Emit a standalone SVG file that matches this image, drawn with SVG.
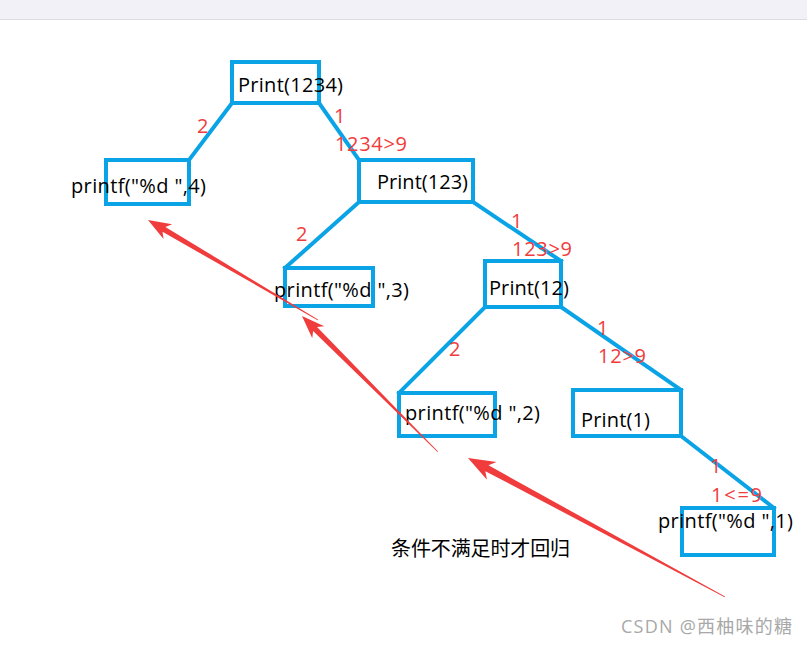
<svg xmlns="http://www.w3.org/2000/svg" width="807" height="646" viewBox="0 0 807 646">
<style>
.box{fill:none;stroke:#0aa3e6;stroke-width:4}
.con{stroke:#0aa3e6;stroke-width:4;fill:none;stroke-linecap:square}
.t{font-family:"Open Sans","Noto Sans CJK SC",sans-serif;font-size:20px;fill:#000}
.r{font-family:"Open Sans","Noto Sans CJK SC",sans-serif;font-size:20px;fill:#f03c3c}
.cn{font-family:"Noto Sans CJK SC",sans-serif;font-size:20px;fill:#000}
.wm{font-family:"Open Sans","Noto Sans CJK SC",sans-serif;font-size:18px;fill:#a8a8a8}
.arr{fill:#f03c3c}
</style>
<rect x="0" y="0" width="807" height="19" fill="#f1f1f7"/>
<line x1="0" y1="19.5" x2="807" y2="19.5" stroke="#dcdce3" stroke-width="1"/>
<rect x="0" y="20" width="807" height="626" fill="#ffffff"/>

<g id="connectors">
<line class="con" x1="232" y1="103" x2="189" y2="160"/>
<line class="con" x1="319" y1="103" x2="359" y2="160"/>
<line class="con" x1="359" y1="202" x2="285" y2="268"/>
<line class="con" x1="473" y1="202" x2="561" y2="261"/>
<line class="con" x1="485" y1="307" x2="399" y2="393"/>
<line class="con" x1="561" y1="307" x2="681" y2="390"/>
<line class="con" x1="681" y1="436" x2="774" y2="508"/>
</g>

<g id="n1234"><rect class="box" x="232" y="62" width="87" height="41"/><text class="t" x="238" y="92" textLength="105">Print(1234)</text></g>
<g id="p4"><rect class="box" x="106" y="160" width="83" height="44"/><text class="t" x="71" y="193" textLength="135">printf("%d ",4)</text></g>
<g id="n123"><rect class="box" x="359" y="160" width="114" height="42"/><text class="t" x="377" y="189" textLength="91">Print(123)</text></g>
<g id="p3"><rect class="box" x="285" y="268" width="88" height="38"/><text class="t" x="274" y="297" textLength="135">printf("%d ",3)</text></g>
<g id="n12"><rect class="box" x="485" y="261" width="76" height="46"/><text class="t" x="489" y="295" textLength="80">Print(12)</text></g>
<g id="p2"><rect class="box" x="399" y="393" width="96" height="43"/><text class="t" x="405" y="420" textLength="135">printf("%d ",2)</text></g>
<g id="n1"><rect class="box" x="573" y="390" width="108" height="46"/><text class="t" x="581" y="427" textLength="69">Print(1)</text></g>
<g id="p1"><rect class="box" x="682" y="508" width="92" height="47"/><text class="t" x="658" y="528" textLength="135">printf("%d ",1)</text></g>

<g id="labels">
<text class="r" x="197" y="133">2</text>
<text class="r" x="334" y="123">1</text>
<text class="r" x="335" y="151" textLength="72">1234&gt;9</text>
<text class="r" x="296" y="241">2</text>
<text class="r" x="511" y="228">1</text>
<text class="r" x="512" y="256" textLength="60">123&gt;9</text>
<text class="r" x="449" y="356">2</text>
<text class="r" x="597" y="335">1</text>
<text class="r" x="598" y="363" textLength="48">12&gt;9</text>
<text class="r" x="710" y="473">1</text>
<text class="r" x="711" y="502" textLength="51">1&lt;=9</text>
</g>

<g id="arrows">
<polygon class="arr" transform="translate(148,220) rotate(210.47)" points="0,0 -23,-8.5 -18.5,-2.8 -197,-0.4 -197,0.4 -18.5,2.8 -23,8.5"/>
<polygon class="arr" transform="translate(302,316) rotate(225)" points="0,0 -23,-8.5 -18.5,-2.8 -192,-0.4 -192,0.4 -18.5,2.8 -23,8.5"/>
<polygon class="arr" transform="translate(468,458) rotate(208.4)" points="0,0 -27,-10 -21.5,-3.3 -292,-0.4 -292,0.4 -21.5,3.3 -27,10"/>
</g>

<text class="cn" x="391" y="556" textLength="179">条件不满足时才回归</text>
<text class="wm" x="621" y="633" textLength="171">CSDN @西柚味的糖</text>
</svg>
